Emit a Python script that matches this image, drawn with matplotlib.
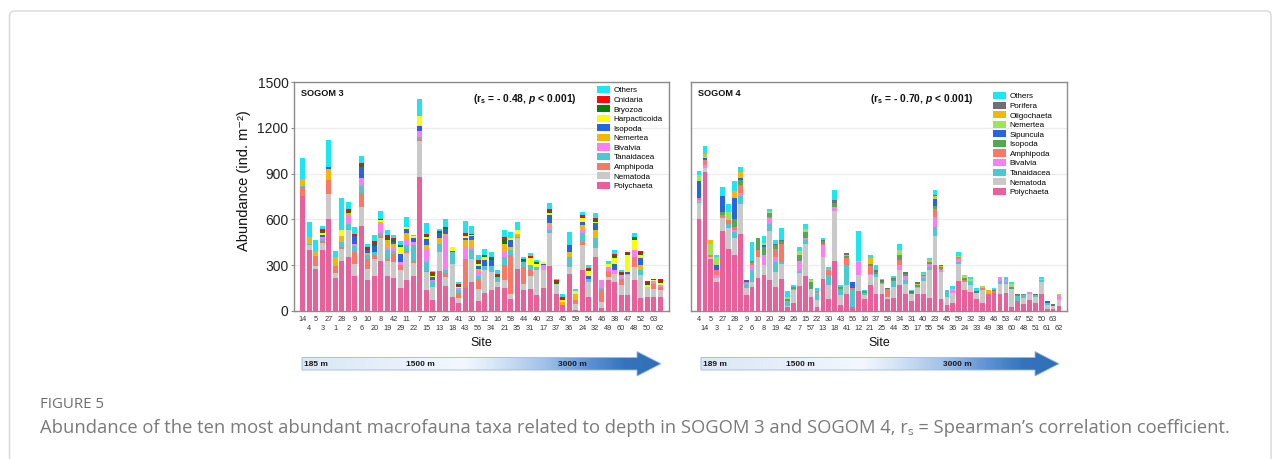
import numpy as np
import matplotlib
matplotlib.use("Agg")
import matplotlib.pyplot as plt
from matplotlib.patches import Polygon, FancyBboxPatch, Patch
from matplotlib.colors import LinearSegmentedColormap
from matplotlib import font_manager

plt.rcParams['font.family'] = ['Liberation Sans', 'DejaVu Sans']
plt.rcParams['mathtext.fontset'] = 'custom'
plt.rcParams['mathtext.rm'] = 'Liberation Sans:bold'
plt.rcParams['mathtext.bf'] = 'Liberation Sans:bold'
plt.rcParams['mathtext.it'] = 'Liberation Sans:italic:bold'

# ---------------- SOGOM 3 (sites ordered by depth) ----------------
s3_sites = ['14', '4', '5', '3', '27', '1', '28', '2', '9', '6', '10', '20', '8', '19', '42', '29',
            '11', '22', '7', '15', '57', '13', '26', '18', '41', '43', '30', '56', '12', '34',
            '16', '21', '58', '35', '44', '31', '40', '17', '23', '37', '45', '36', '59', '24',
            '54', '32', '46', '49', '38', '60', '47', '48', '52', '50', '63', '62']
s3_polychaeta = [755, 400, 275, 400, 604, 215, 328, 355, 230, 558, 200, 230, 328, 230, 215, 150, 200, 230, 880, 140,
                 75, 265, 165, 90, 55, 153, 193, 66, 118, 136, 158, 153, 81, 278, 136, 147, 103, 153, 293, 110,
                 37, 245, 5, 267, 92, 355, 20, 200, 190, 103, 103, 206, 88, 92, 92, 92]
s3_nematoda = [0, 30, 18, 48, 162, 37, 75, 173, 75, 125, 73, 110, 150, 100, 105, 120, 180, 85, 235, 115,
               80, 120, 60, 220, 30, 0, 150, 75, 149, 120, 30, 48, 33, 197, 44, 81, 164, 114, 215, 70,
               0, 44, 43, 164, 98, 55, 40, 20, 55, 66, 131, 83, 146, 66, 55, 44]
s3_amphipoda = [57, 0, 70, 12, 90, 40, 15, 10, 80, 88, 66, 26, 10, 10, 55, 30, 10, 10, 10, 10,
                0, 0, 25, 0, 35, 185, 0, 70, 0, 0, 0, 99, 252, 11, 109, 39, 0, 0, 0, 0,
                0, 0, 25, 22, 0, 0, 75, 35, 0, 43, 0, 66, 0, 0, 33, 22]
s3_tanaidacea = [10, 10, 0, 12, 0, 0, 37, 32, 40, 48, 26, 22, 20, 60, 20, 0, 40, 110, 15, 55,
                 40, 55, 20, 75, 20, 0, 55, 20, 26, 37, 35, 55, 33, 0, 30, 33, 22, 0, 22, 0,
                 0, 66, 0, 55, 22, 65, 15, 10, 0, 0, 0, 0, 37, 0, 0, 0]
s3_bivalvia = [0, 0, 0, 10, 7, 0, 0, 55, 15, 50, 0, 0, 65, 15, 20, 20, 40, 20, 30, 85,
               10, 0, 220, 0, 10, 83, 15, 25, 0, 0, 0, 33, 0, 0, 0, 0, 0, 33, 26, 0,
               0, 0, 0, 22, 0, 0, 50, 25, 22, 22, 11, 44, 0, 0, 15, 15]
s3_nemertea = [40, 45, 27, 0, 66, 60, 35, 19, 0, 0, 15, 0, 10, 50, 25, 0, 40, 0, 10, 25,
               0, 40, 15, 0, 0, 44, 50, 20, 0, 0, 0, 54, 20, 20, 0, 0, 0, 0, 18, 0,
               22, 33, 40, 33, 0, 55, 0, 0, 0, 0, 0, 0, 29, 0, 0, 0]
s3_isopoda = [0, 0, 0, 15, 13, 0, 0, 0, 50, 77, 18, 40, 0, 0, 15, 55, 28, 25, 30, 40,
              15, 30, 30, 5, 0, 10, 25, 20, 44, 40, 0, 0, 43, 0, 10, 0, 0, 7, 55, 0,
              0, 43, 0, 22, 20, 44, 0, 0, 39, 0, 10, 0, 44, 0, 0, 0]
s3_harpacticoida = [0, 0, 0, 15, 0, 0, 38, 0, 0, 0, 0, 0, 10, 0, 0, 45, 15, 10, 65, 15,
                    10, 0, 0, 30, 10, 15, 10, 15, 15, 0, 0, 0, 15, 22, 0, 44, 22, 15, 11, 0,
                    11, 0, 15, 21, 30, 12, 0, 15, 44, 0, 110, 65, 25, 15, 7, 11]
s3_bryozoa = [0, 0, 0, 15, 0, 0, 0, 13, 0, 10, 10, 20, 10, 15, 10, 10, 0, 0, 0, 10,
              15, 15, 15, 0, 10, 10, 8, 10, 10, 12, 12, 20, 0, 0, 10, 8, 11, 0, 15, 12,
              11, 0, 0, 11, 12, 11, 0, 0, 12, 12, 12, 12, 12, 12, 0, 12]
s3_cnidaria = [0, 0, 0, 13, 0, 0, 0, 13, 15, 12, 10, 10, 0, 15, 10, 0, 0, 0, 0, 10,
               10, 0, 0, 0, 10, 10, 0, 10, 5, 10, 10, 20, 0, 0, 0, 7, 0, 0, 11, 10,
               11, 0, 0, 10, 10, 11, 0, 0, 11, 10, 11, 11, 11, 10, 10, 11]
s3_others = [140, 100, 72, 20, 175, 38, 212, 44, 45, 48, 22, 42, 50, 35, 25, 30, 64, 10, 115, 70,
             5, 15, 50, 0, 10, 79, 50, 35, 36, 33, 22, 48, 42, 52, 16, 18, 15, 0, 39, 10,
             22, 84, 17, 23, 20, 32, 0, 20, 27, 11, 0, 21, 0, 0, 0, 0]

# ---------------- SOGOM 4 (sites ordered by depth) ----------------
s4_sites = ['4', '14', '5', '3', '27', '1', '28', '2', '9', '6', '10', '8', '20', '19', '29', '42',
            '26', '7', '15', '57', '22', '13', '30', '18', '43', '41', '56', '12', '16', '21',
            '37', '25', '58', '44', '34', '35', '31', '17', '40', '55', '23', '54', '45', '36',
            '59', '24', '32', '33', '39', '49', '46', '38', '53', '60', '47', '48', '52', '51',
            '50', '61', '63', '62']
s4_polychaeta = [602, 913, 339, 190, 526, 403, 366, 504, 103, 158, 219, 234, 201, 158, 212, 26, 53, 164, 230, 92,
                 26, 212, 81, 326, 37, 114, 26, 129, 77, 169, 110, 114, 77, 88, 169, 110, 66, 110, 114, 88,
                 304, 77, 37, 55, 198, 140, 122, 80, 55, 110, 120, 110, 115, 26, 66, 44, 70, 55, 110, 15,
                 15, 33]
s4_nematoda = [103, 22, 16, 27, 81, 142, 114, 195, 48, 32, 136, 70, 322, 100, 99, 10, 83, 88, 210, 55,
               45, 143, 88, 329, 66, 55, 0, 105, 30, 65, 110, 60, 15, 70, 98, 70, 44, 40, 80, 180,
               187, 180, 55, 60, 110, 50, 50, 40, 80, 0, 0, 70, 60, 120, 0, 40, 40, 35, 80, 25,
               15, 40]
s4_tanaidacea = [11, 0, 0, 0, 11, 22, 39, 54, 29, 77, 0, 0, 44, 60, 10, 30, 5, 10, 22, 0,
                 40, 0, 65, 0, 33, 131, 110, 0, 10, 0, 22, 10, 0, 40, 0, 20, 0, 0, 22, 22,
                 61, 0, 48, 0, 15, 0, 15, 0, 0, 0, 0, 15, 15, 0, 30, 20, 0, 15, 10, 10,
                 0, 0]
s4_bivalvia = [11, 22, 0, 22, 0, 0, 10, 22, 5, 33, 0, 62, 40, 35, 0, 0, 0, 66, 15, 0,
               10, 76, 5, 28, 0, 0, 0, 88, 0, 10, 0, 0, 0, 0, 33, 30, 0, 10, 10, 15,
               61, 10, 0, 22, 15, 0, 10, 0, 0, 0, 0, 28, 15, 0, 0, 0, 15, 0, 0, 0,
               0, 30]
s4_amphipoda = [11, 33, 11, 28, 11, 29, 18, 51, 5, 15, 44, 0, 11, 50, 117, 0, 5, 0, 0, 0,
                10, 11, 28, 0, 11, 44, 15, 0, 0, 52, 0, 0, 50, 0, 33, 0, 0, 0, 0, 0,
                53, 8, 0, 0, 15, 11, 0, 0, 15, 0, 10, 0, 0, 0, 0, 0, 0, 0, 0, 0,
                0, 0]
s4_isopoda = [0, 0, 0, 0, 21, 0, 55, 30, 0, 13, 76, 55, 22, 30, 20, 10, 11, 40, 40, 40,
              0, 15, 0, 22, 11, 15, 0, 0, 11, 10, 15, 8, 0, 10, 33, 10, 10, 10, 10, 15,
              22, 10, 0, 0, 0, 15, 0, 0, 0, 0, 0, 0, 0, 10, 10, 10, 0, 0, 0, 0,
              0, 0]
s4_sipuncula = [116, 15, 0, 33, 103, 0, 135, 13, 11, 0, 0, 12, 0, 0, 0, 0, 0, 0, 0, 0,
                0, 0, 0, 0, 0, 0, 39, 0, 0, 0, 0, 0, 0, 0, 0, 0, 0, 0, 0, 0,
                43, 0, 0, 0, 0, 0, 0, 0, 0, 0, 0, 0, 0, 0, 0, 0, 0, 0, 0, 16,
                0, 0]
s4_nemertea = [37, 12, 70, 55, 0, 50, 0, 0, 0, 0, 0, 15, 10, 0, 0, 15, 0, 28, 20, 15,
               0, 0, 0, 0, 0, 0, 0, 5, 0, 0, 0, 0, 0, 0, 33, 0, 0, 8, 8, 10,
               8, 0, 0, 10, 10, 15, 15, 0, 15, 0, 0, 0, 0, 20, 0, 0, 0, 0, 8, 0,
               0, 11]
s4_oligochaeta = [0, 12, 28, 0, 0, 0, 51, 44, 0, 0, 0, 0, 7, 0, 0, 0, 0, 0, 0, 0,
                  0, 0, 11, 0, 0, 10, 0, 0, 0, 38, 0, 0, 0, 0, 0, 0, 0, 0, 0, 8,
                  14, 8, 0, 0, 0, 8, 0, 0, 0, 30, 0, 0, 0, 0, 0, 0, 0, 0, 0, 0,
                  0, 0]
s4_porifera = [0, 0, 0, 0, 0, 0, 0, 0, 0, 0, 0, 0, 0, 8, 10, 0, 0, 0, 0, 0,
               0, 7, 0, 22, 0, 12, 0, 0, 0, 0, 12, 10, 11, 10, 0, 16, 10, 10, 0, 0,
               10, 7, 0, 0, 0, 0, 0, 10, 0, 0, 10, 0, 0, 0, 8, 0, 0, 9, 0, 0,
               18, 0]
s4_others = [27, 55, 0, 11, 62, 55, 61, 29, 0, 122, 0, 42, 11, 22, 73, 40, 12, 24, 30, 10,
             20, 11, 11, 66, 11, 0, 0, 199, 12, 22, 35, 10, 0, 10, 43, 0, 10, 0, 10, 10,
             30, 0, 0, 15, 25, 0, 11, 20, 0, 0, 11, 0, 18, 14, 0, 0, 0, 0, 15, 0,
             0, 0]

# taxa from bottom of the stack to the top
s3_taxa = ['Polychaeta', 'Nematoda', 'Amphipoda', 'Tanaidacea', 'Bivalvia', 'Nemertea',
           'Isopoda', 'Harpacticoida', 'Bryozoa', 'Cnidaria', 'Others']
s3_values = [s3_polychaeta, s3_nematoda, s3_amphipoda, s3_tanaidacea, s3_bivalvia, s3_nemertea,
             s3_isopoda, s3_harpacticoida, s3_bryozoa, s3_cnidaria, s3_others]
s3_colors = ['#e8619b', '#c9c9c9', '#fb7766', '#4dc8d0', '#fb7ef3', '#f3b806',
             '#2763e3', '#fbfb0b', '#0b7d0b', '#fc0a0a', '#1de6f0']

s4_taxa = ['Polychaeta', 'Nematoda', 'Tanaidacea', 'Bivalvia', 'Amphipoda', 'Isopoda',
           'Sipuncula', 'Nemertea', 'Oligochaeta', 'Porifera', 'Others']
s4_values = [s4_polychaeta, s4_nematoda, s4_tanaidacea, s4_bivalvia, s4_amphipoda, s4_isopoda,
             s4_sipuncula, s4_nemertea, s4_oligochaeta, s4_porifera, s4_others]
s4_colors = ['#e8619b', '#c9c9c9', '#4dc8d0', '#fb7ef3', '#fb7766', '#55a655',
             '#2763e3', '#9ce45c', '#f3b806', '#707070', '#1de6f0']

W, H = 1282, 459
fig = plt.figure(figsize=(W / 100, H / 100), dpi=100)


def fx(x):
    return x / W


def fy(y):
    return 1 - y / H


# page overlay in pixel units (frame, depth arrows, caption)
ov = fig.add_axes([0, 0, 1, 1])
ov.set_xlim(0, W)
ov.set_ylim(H, 0)
ov.axis('off')
ov.add_patch(FancyBboxPatch((9.5, 11), 1261.5, 480, boxstyle="round,pad=0,rounding_size=5",
                            ec='#d9d9d9', fc='none', lw=1.0))


def draw_panel(left_px, right_px, sites, values, colors, taxa, title, stat, legend_xy, show_y):
    top_px, bot_px = 82, 311
    ax = fig.add_axes([fx(left_px), fy(bot_px), fx(right_px - left_px), (bot_px - top_px) / H])
    n = len(sites)
    x = np.arange(n)
    bottom = np.zeros(n)
    handles = []
    for vals, col, name in zip(values, colors, taxa):
        vals = np.asarray(vals, dtype=float)
        assert len(vals) == n
        ax.bar(x, vals, 0.8, bottom=bottom, color=col, lw=0, zorder=2)
        bottom += vals
        handles.append(Patch(facecolor=col, edgecolor='none', label=name))
    ax.set_xlim(-1.35, n - 1 + 1.35)
    ax.set_ylim(0, 1500)
    ax.set_yticks([0, 300, 600, 900, 1200, 1500])
    ax.yaxis.grid(True, color='#ececec', lw=0.9, zorder=0)
    ax.set_axisbelow(True)
    for sp in ax.spines.values():
        sp.set_color('#8c8c8c')
        sp.set_linewidth(1.0)
    if show_y:
        ax.tick_params(axis='y', length=2, color='#8c8c8c', labelsize=10, labelcolor='#222222', pad=2)
    else:
        ax.tick_params(axis='y', length=0, labelleft=False)
    ax.set_xticks(x[::2], labels=sites[::2])
    ax.set_xticks(x[1::2], labels=sites[1::2], minor=True)
    ax.tick_params(axis='x', which='major', length=0, pad=3.4, labelsize=5.3, labelcolor='#333333')
    ax.tick_params(axis='x', which='minor', length=0, pad=10.4, labelsize=5.3, labelcolor='#333333')

    ax.legend(handles=handles[::-1], loc='upper left',
              bbox_to_anchor=(fx(legend_xy[0]), fy(legend_xy[1])), bbox_transform=fig.transFigure,
              frameon=False, fontsize=5.8, handlelength=1.65, handleheight=1.0,
              handletextpad=0.4, labelspacing=0.15, borderpad=0, borderaxespad=0)

    fig.text(fx(left_px + 7), fy(94), title, fontsize=6.6, fontweight='bold',
             ha='left', va='center', color='#111111')
    fig.text(fx(stat[0]), fy(99), stat[1], fontsize=7.4, fontweight='bold',
             ha='left', va='center', color='#111111')
    fig.text(fx((left_px + right_px) / 2), fy(343), 'Site', fontsize=9,
             ha='center', va='center', color='#111111')
    return ax


draw_panel(294, 669, s3_sites, s3_values, s3_colors, s3_taxa, 'SOGOM 3',
           (473, r'($\mathbf{r}_{\mathbf{s}}$ = - 0.48, $p$ < 0.001)'), (597, 86), True)
draw_panel(691, 1067, s4_sites, s4_values, s4_colors, s4_taxa, 'SOGOM 4',
           (870, r'($\mathbf{r}_{\mathbf{s}}$ = - 0.70, $p$ < 0.001)'), (993, 92), False)

fig.text(fx(244), fy(181), 'Abundance (ind. m⁻²)', rotation=90, fontsize=10.5,
         ha='center', va='center', color='#111111')

# depth gradient arrows
arrow_cmap = LinearSegmentedColormap.from_list(
    'depth', [(0.0, '#dbe7f6'), (0.30, '#e9f1fb'), (0.45, '#f4f8fe'), (0.55, '#d3e3f5'),
              (0.68, '#9fc0e8'), (0.80, '#5e93d3'), (0.90, '#3574bd'), (1.0, '#2e70b5')])


def depth_arrow(x0, x1, labels):
    yb0, yb1 = 357.5, 370.0
    yh0, yh1 = 351.5, 376.0
    xh = x1 - 24
    verts = [(x0, yb0), (xh, yb0), (xh, yh0), (x1, (yh0 + yh1) / 2), (xh, yh1), (xh, yb1), (x0, yb1)]
    poly = Polygon(verts, closed=True, fc='none', ec='#9fb9d9', lw=0.6, zorder=3)
    ov.add_patch(poly)
    grad = np.linspace(0, 1, 512).reshape(1, -1)
    im = ov.imshow(grad, cmap=arrow_cmap, extent=[x0, x1, yh1, yh0], aspect='auto',
                   interpolation='bilinear', zorder=2)
    im.set_clip_path(poly)
    for lx, txt in labels:
        ov.text(lx, 364, txt, fontsize=6.0, fontweight='bold', ha='left', va='center',
                color='#1a1a1a', zorder=4)


depth_arrow(302, 661, [(304, '185 m'), (406, '1500 m'), (558, '3000 m')])
depth_arrow(701, 1059, [(703, '189 m'), (786, '1500 m'), (943, '3000 m')])
ov.set_xlim(0, W)
ov.set_ylim(H, 0)

# caption (a narrow face when one is installed)
installed = {f.name for f in font_manager.fontManager.ttflist}
cap_family = [f for f in ['Liberation Sans Narrow', 'Open Sans'] if f in installed] + ['DejaVu Sans']
t1 = ov.text(40, 405, 'FIGURE 5', fontsize=9.5, family=cap_family, color='#6e6e6e',
             ha='left', va='center')
t2 = ov.text(40, 428, 'Abundance of the ten most abundant macrofauna taxa related to depth in '
             'SOGOM 3 and SOGOM 4, rₛ = Spearman’s correlation coefficient.',
             fontsize=12, family=cap_family, color='#7a7a7a', ha='left', va='center')
renderer = fig.canvas.get_renderer()
for t, target in ((t1, 64), (t2, 1188)):
    w = t.get_window_extent(renderer).width
    t.set_fontsize(t.get_fontsize() * target / w)

fig.savefig('out.png', dpi=100, facecolor='white')
